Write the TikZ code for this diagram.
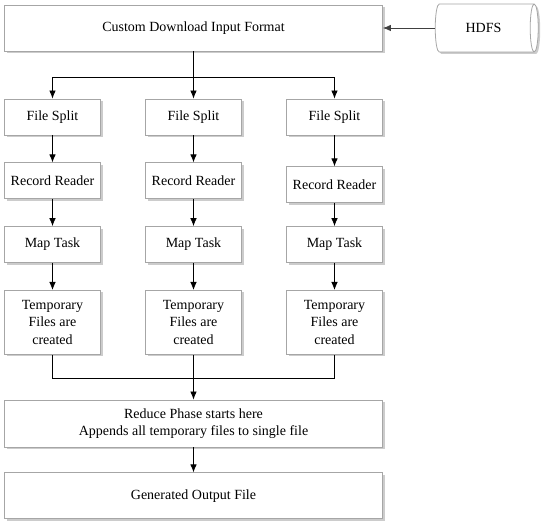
\documentclass[tikz,border=0pt]{standalone}
\usepackage{fontspec}
\setmainfont{Liberation Serif}
\newfontfamily\diagfont{Liberation Serif}
\usetikzlibrary{arrows,arrows.meta,positioning,shapes.geometric,shadows}

\begin{document}
\begin{tikzpicture}[->,>={Latex[length=8pt,width=6.5pt]},thick,x=1pt,y=1pt,node distance=27pt,
                    font=\diagfont\fontsize{14}{17.5}\selectfont]

  \tikzstyle{stage}=[rectangle,draw=gray!70,fill=white,align=center,inner sep=2pt,
                     minimum width=96pt,minimum height=36pt,
                     drop shadow={shadow xshift=2pt,shadow yshift=-2pt,fill=black!40}]
  \tikzstyle{wide stage}=[stage,minimum width=378pt,minimum height=46pt]
  \tikzstyle{store}=[cylinder,shape border rotate=0,aspect=0.5,draw=gray!70,fill=white,
                     minimum height=103pt,minimum width=48pt,
                     drop shadow={shadow xshift=2pt,shadow yshift=-2pt,fill=black!40}]

  \useasboundingbox (0,0) rectangle (542,-529);

  \node[wide stage] (input) at (193.5,-28)  {Custom Download Input Format};
  \node[store]      (hdfs)  at (483.5,-28)  {HDFS};

  \node[stage] (fs1) at (52.5,-117)  {File Split};
  \node[stage] (fs2) at (193.5,-117) {File Split};
  \node[stage] (fs3) at (334.5,-117) {File Split};

  \node[stage] (rr1) [below=of fs1]    {Record Reader};
  \node[stage] (rr2) [below=of fs2]    {Record Reader};
  \node[stage] (rr3) [below=31pt of fs3] {Record Reader};

  \node[stage] (mt1) [below=of rr1]    {Map Task};
  \node[stage] (mt2) [below=of rr2]    {Map Task};
  \node[stage] (mt3) [below=23pt of rr3] {Map Task};

  \node[stage,minimum height=64pt] (tf1) [below=of mt1] {Temporary\\Files are\\created};
  \node[stage,minimum height=64pt] (tf2) [below=of mt2] {Temporary\\Files are\\created};
  \node[stage,minimum height=64pt] (tf3) [below=of mt3] {Temporary\\Files are\\created};

  \node[wide stage,minimum height=47pt] (reduce) at (193.5,-423.5)
       {Reduce Phase starts here\\Appends all temporary files to single file};
  \node[wide stage] (output) [below=25pt of reduce] {Generated Output File};

  % input side
  \draw[draw=black!75] (hdfs) -- (input);
  \draw[-] (input.south) -- ++(0,-26) coordinate (fork);
  \draw (fork) -| (fs1);
  \draw (input.south) -- (fs2);
  \draw (fork) -| (fs3);

  % map columns
  \foreach \c in {1,2,3} {
    \draw (fs\c) -- (rr\c);
    \draw (rr\c) -- (mt\c);
    \draw (mt\c) -- (tf\c);
  }

  % reduce side
  \draw[-] (tf1.south) -- ++(0,-24) -| (tf3.south);
  \draw (tf2) -- (reduce);
  \draw (reduce) -- (output);
\end{tikzpicture}
\end{document}
